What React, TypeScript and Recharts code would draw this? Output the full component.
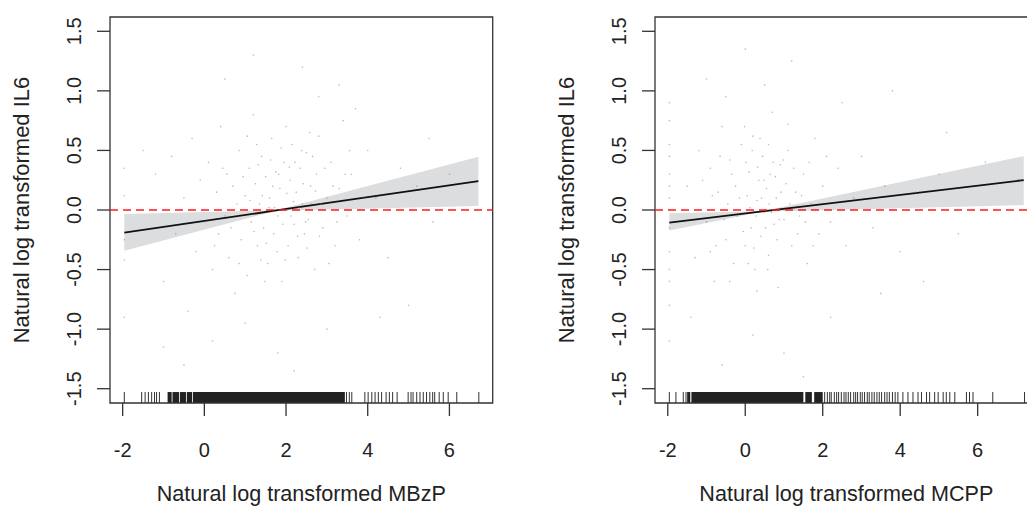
import {
  ComposedChart, Area, Line, Scatter, XAxis, YAxis, ReferenceLine, ReferenceArea,
} from 'recharts'

const Y_TICKS = [-1.5, -1, -0.5, 0, 0.5, 1, 1.5]
const X_TICKS = [-2, 0, 2, 4, 6]
const Y_DOMAIN = [-1.62, 1.62]
const RUG_TOP = -1.528

// fitted line + confidence band (left: MBzP, right: MCPP)
const FIT_X_L = [-1.96, 1.76, 6.71]
const FIT_Y_L = [-0.19, -0.004, 0.243]
const LOW_L = [-0.343, -0.006, 0.034]
const HIGH_L = [-0.034, -0.002, 0.446]

const FIT_X_R = [-1.96, 0.44, 7.19]
const FIT_Y_R = [-0.106, -0.012, 0.251]
const LOW_R = [-0.173, -0.014, 0.042]
const HIGH_R = [-0.028, -0.01, 0.452]

const PTS_L = [
  [-1.96, 0.12], [-1.96, -0.42], [-1.96, -0.9], [-1.96, 0.35], [-1.96, -0.25],
  [-1.2, 0.3], [-1.0, -0.6], [-0.8, 0.45], [-0.7, -0.2], [-0.5, 0.1], [-0.4, -0.85], [-0.3, 0.6],
  [-0.2, -0.35], [-0.1, 0.25], [0, -0.1], [0.1, 0.4], [0.2, -0.5], [0.3, 0.15], [0.35, -0.2],
  [0.4, 0.7], [0.5, -0.05], [0.55, 0.3], [0.6, -0.4], [0.7, 0.2], [0.75, -0.7], [0.8, 0.05],
  [0.85, 0.5], [0.9, -0.25], [1.0, 0.12], [1.05, -0.55], [1.1, 0.35], [1.15, -0.1], [1.2, 0.8],
  [1.25, 0.22], [1.3, -0.3], [1.35, 0.05], [1.4, 0.45], [1.45, -0.15], [1.5, 0.28], [1.55, -0.45],
  [1.6, 0.1], [1.65, 0.6], [1.7, -0.2], [1.75, 0.32], [1.8, -0.05], [1.85, 0.18], [1.9, -0.6],
  [1.95, 0.4], [2.0, 0.0], [2.05, -0.3], [2.1, 0.25], [2.15, 0.55], [2.2, -0.12], [2.25, 0.15],
  [2.3, -0.4], [2.35, 0.35], [2.4, 0.05], [2.45, -0.2], [2.5, 0.48], [2.55, -0.08], [2.6, 0.2],
  [2.7, -0.5], [2.75, 0.3], [2.8, 0.62], [2.9, -0.15], [3.0, 0.1], [3.1, 0.4], [3.2, -0.3],
  [3.3, 0.18], [3.4, 0.75], [3.5, -0.05], [3.6, 0.3], [3.8, -0.25], [4.0, 0.5], [4.2, 0.1],
  [4.5, -0.4], [4.8, 0.35], [5.2, 0.2], [5.6, -0.1], [6.0, 0.3],
  [0.5, 1.1], [1.2, 1.3], [2.4, 1.2], [2.8, 0.95], [3.3, 1.05], [1.8, -1.2], [0.2, -1.1],
  [3.0, -1.0], [2.2, -1.35], [4.3, -0.9], [5.0, -0.8], [-0.5, -1.3], [1.0, -0.95], [3.7, 0.85],
  [5.5, 0.6], [-1.5, 0.5], [-1.0, -1.15],
  [1.12, 0.08], [1.22, -0.18], [1.32, 0.38], [1.42, 0.12], [1.52, -0.28], [1.62, 0.42],
  [1.72, 0.02], [1.82, 0.3], [1.92, -0.12], [2.02, 0.14], [2.12, -0.05], [2.22, 0.4],
  [2.32, 0.02], [2.42, 0.22], [2.52, -0.32], [2.62, 0.05], [2.72, 0.16], [2.82, -0.22],
  [1.58, 0.02], [1.68, 0.2], [1.78, -0.35], [1.88, 0.52], [1.98, -0.42], [2.08, 0.36],
  [2.18, 0.07], [2.28, -0.22], [2.38, 0.5], [2.48, -0.1], [0.95, 0.28], [0.65, -0.15],
  [0.45, 0.35], [0.25, -0.3], [3.15, 0.2], [3.25, -0.1], [3.45, 0.3], [2.95, 0.35],
  [2.65, 0.45], [1.28, 0.55], [1.48, -0.6], [2.0, 0.7], [2.58, 0.65], [1.05, 0.62],
  [3.05, -0.45], [0.85, -0.45], [1.38, -0.42], [2.85, 0.05], [3.55, 0.5], [3.9, 0.1],
]

const PTS_R = [
  [-1.96, 0.3], [-1.96, -0.15], [-1.96, 0.55], [-1.96, -0.5], [-1.96, 0.1], [-1.96, -0.8],
  [-1.96, 0.75], [-1.96, -1.1], [-1.96, 0.2], [-1.96, -0.35],
  [-1.5, 0.2], [-1.3, -0.4], [-1.2, 0.5], [-1.0, -0.1], [-0.9, 0.35], [-0.8, -0.6], [-0.7, 0.15],
  [-0.6, 0.7], [-0.5, -0.25], [-0.45, 0.05], [-0.4, 0.42], [-0.3, -0.45], [-0.25, 0.2],
  [-0.2, -0.05], [-0.1, 0.55], [0, -0.3], [0.05, 0.12], [0.1, 0.32], [0.15, -0.15], [0.2, 0.62],
  [0.25, -0.5], [0.3, 0.08], [0.35, 0.25], [0.4, -0.22], [0.45, 0.45], [0.5, -0.02], [0.55, 0.18],
  [0.6, -0.38], [0.65, 0.3], [0.7, 0.82], [0.75, -0.12], [0.8, 0.1], [0.85, -0.65], [0.9, 0.38],
  [1.0, -0.08], [1.05, 0.22], [1.1, 0.5], [1.2, -0.3], [1.3, 0.15], [1.4, -0.05], [1.5, 0.3],
  [1.6, -0.45], [1.7, 0.05], [1.8, 0.6], [1.9, -0.2], [2.0, 0.2], [2.2, -0.1], [2.4, 0.35],
  [2.6, -0.3], [2.8, 0.1], [3.0, 0.45], [3.3, -0.15], [3.6, 0.2], [4.0, -0.35], [4.4, 0.15],
  [5.0, 0.3], [5.5, -0.2], [6.2, 0.4], [7.1, 0.25],
  [-1.0, 1.1], [0.0, 1.35], [0.5, 1.05], [1.2, 1.25], [-0.5, 0.95], [2.5, 0.9], [3.8, 1.0],
  [1.0, -1.2], [0.2, -1.05], [-0.6, -1.3], [2.2, -0.9], [3.5, -0.7], [5.2, 0.65], [4.6, -0.6],
  [1.5, -1.4], [-1.4, -0.9],
  [-0.15, 0.1], [-0.05, -0.18], [0.02, 0.4], [0.12, 0.02], [0.22, -0.32], [0.32, 0.36],
  [0.42, 0.1], [0.52, -0.15], [0.62, 0.05], [0.72, 0.4], [0.82, -0.25], [0.92, 0.15],
  [-0.35, 0.3], [-0.55, -0.08], [-0.65, 0.45], [-0.75, -0.3], [-0.85, 0.12], [-1.1, 0.25],
  [0.08, -0.45], [0.18, 0.5], [0.28, -0.05], [0.38, 0.6], [0.48, 0.25], [0.58, -0.5],
  [0.68, -0.02], [0.78, 0.28], [0.88, -0.08], [0.98, 0.42], [1.15, 0.05], [1.25, 0.35],
  [1.35, -0.2], [1.45, 0.12], [1.55, -0.1], [1.65, 0.4], [-0.02, 0.7], [0.3, -0.68],
  [-0.4, -0.6], [-0.9, -0.35], [1.1, 0.72], [0.6, 0.55], [1.75, -0.3], [2.1, 0.45],
  [-1.96, 0.45], [-1.96, -0.6], [-1.96, 0.0], [-1.96, 0.9],
]

// rug: single ticks and solid runs
const RUG_L = [
  -1.96, -1.535, -1.45, -1.37, -1.29, -1.22, -1.17, -1.1,
  3.48, 3.55, 3.61, 3.93, 4.01, 4.1, 4.18, 4.26, 4.34, 4.45, 4.53, 4.61, 4.72,
  4.99, 5.06, 5.11, 5.2, 5.28, 5.36, 5.44, 5.52, 5.59, 5.64, 5.75, 5.85, 5.97, 6.18, 6.72,
]
const RUG_BLOCKS_L = [[-0.9, -0.8], [-0.78, -0.62], [-0.6, -0.45], [-0.43, -0.3], [-0.28, 3.44]]

const RUG_R = [
  -1.96, -1.79, -1.6, -1.53,
  2.05, 2.12, 2.18, 2.22, 2.3, 2.36, 2.41, 2.48, 2.55, 2.6, 2.66, 2.72, 2.8, 2.85, 2.9, 2.97,
  3.02, 3.08, 3.15, 3.2, 3.27, 3.33, 3.4, 3.46, 3.52, 3.6, 3.66, 3.72, 3.8, 3.87,
  3.94, 4.07, 4.2, 4.33, 4.46, 4.55, 4.68, 4.76, 4.89, 4.98, 5.11, 5.19, 5.28, 5.41,
  5.71, 5.79, 5.88, 6.39, 7.21,
]
const RUG_BLOCKS_R = [[-1.5, -1.42], [-1.39, 1.5], [1.55, 1.72], [1.78, 2.0]]

const FONT = '"Liberation Sans", Arial, Helvetica, sans-serif'
const TEXT = '#222'

const fmtY = (v: number) => v.toFixed(1)

function YTick(props: any) {
  const { x, y, payload } = props
  const bx = x - 16
  return (
    <text x={bx} y={y} transform={`rotate(-90 ${bx} ${y})`} textAnchor="middle"
      fontFamily={FONT} fontSize={20} fill={TEXT}>{fmtY(payload.value)}</text>
  )
}

function XTick(props: any) {
  const { x, y, payload } = props
  return (
    <text x={x} y={y + 41} textAnchor="middle" fontFamily={FONT} fontSize={20} fill={TEXT}>
      {String(payload.value)}
    </text>
  )
}

function YTitle(props: any) {
  const vb = props.viewBox || { x: 0, y: 17, width: 110, height: 386 }
  const bx = vb.x + vb.width - 81
  const cy = vb.y + vb.height / 2
  return (
    <text x={bx} y={cy} transform={`rotate(-90 ${bx} ${cy})`} textAnchor="middle"
      fontFamily={FONT} fontSize={22} fill={TEXT}>{props.text}</text>
  )
}

function XTitle(props: any) {
  const vb = props.viewBox || { x: 110, y: 403, width: 383, height: 105 }
  return (
    <text x={vb.x + vb.width / 2} y={vb.y + 98} textAnchor="middle"
      fontFamily={FONT} fontSize={21.6} fill={TEXT}>{props.text}</text>
  )
}

const Dot = (p: any) => <circle cx={p.cx} cy={p.cy} r={0.8} fill="#777" fillOpacity={0.5} />
const RugTick = (p: any) => <line x1={p.cx} x2={p.cx} y1={p.cy} y2={p.cy - 11} stroke="#333" strokeWidth={1} />

interface PanelProps {
  left: number
  xDomain: number[]
  fx: number[]
  fy: number[]
  lo: number[]
  hi: number[]
  pts: number[][]
  rug: number[]
  blocks: number[][]
  xTitle: string
}

function Panel({ left, xDomain, fx, fy, lo, hi, pts, rug, blocks, xTitle }: PanelProps) {
  const data = fx.map((x, i) => ({ x, fit: fy[i], band: [lo[i], hi[i]] }))
  const points = pts.map(([x, y]) => ({ x, y }))
  const rugData = rug.map((x) => ({ x, y: Y_DOMAIN[0] }))

  return (
    <div style={{ position: 'absolute', left, top: 0 }}>
      <ComposedChart width={510} height={508} data={data}
        margin={{ top: 17, right: 17.3, bottom: 0, left: 0 }}>
        <XAxis type="number" dataKey="x" domain={xDomain} ticks={X_TICKS} interval={0}
          allowDataOverflow height={105} tickSize={13} tickMargin={0} axisLine={false}
          tickLine={{ stroke: '#333', strokeWidth: 1.3 }} tick={<XTick />}
          label={<XTitle text={xTitle} />} />
        <YAxis type="number" domain={Y_DOMAIN} ticks={Y_TICKS} interval={0}
          allowDataOverflow width={110} tickSize={13} tickMargin={0} axisLine={false}
          tickLine={{ stroke: '#333', strokeWidth: 1.3 }} tick={<YTick />}
          label={<YTitle text="Natural log transformed IL6" />} />
        <Area type="linear" dataKey="band" fill="#dcdddf" fillOpacity={1} stroke="none"
          isAnimationActive={false} />
        <Scatter data={points} dataKey="y" shape={Dot} isAnimationActive={false} />
        <Line type="linear" dataKey="fit" stroke="#111" strokeWidth={1.8} dot={false}
          isAnimationActive={false} />
        <ReferenceLine y={0} stroke="#ff1a1a" strokeWidth={1.6} strokeDasharray="8 5" />
        {blocks.map(([a, b], i) => (
          <ReferenceArea key={i} x1={a} x2={b} y1={Y_DOMAIN[0]} y2={RUG_TOP}
            fill="#222" fillOpacity={1} stroke="none" />
        ))}
        <Scatter data={rugData} dataKey="y" shape={RugTick} isAnimationActive={false} />
        <ReferenceArea x1={xDomain[0]} x2={xDomain[1]} y1={Y_DOMAIN[0]} y2={Y_DOMAIN[1]}
          fill="none" stroke="#333" strokeWidth={1.3} />
      </ComposedChart>
    </div>
  )
}

export default function App() {
  return (
    <div style={{ position: 'relative', width: 1027, height: 508, overflow: 'hidden', background: '#fff' }}>
      <style>{'body{margin:0}'}</style>
      <Panel left={0} xDomain={[-2.31, 7.06]} fx={FIT_X_L} fy={FIT_Y_L} lo={LOW_L} hi={HIGH_L}
        pts={PTS_L} rug={RUG_L} blocks={RUG_BLOCKS_L} xTitle="Natural log transformed MBzP" />
      <Panel left={545} xDomain={[-2.33, 7.55]} fx={FIT_X_R} fy={FIT_Y_R} lo={LOW_R} hi={HIGH_R}
        pts={PTS_R} rug={RUG_R} blocks={RUG_BLOCKS_R} xTitle="Natural log transformed MCPP" />
    </div>
  )
}
